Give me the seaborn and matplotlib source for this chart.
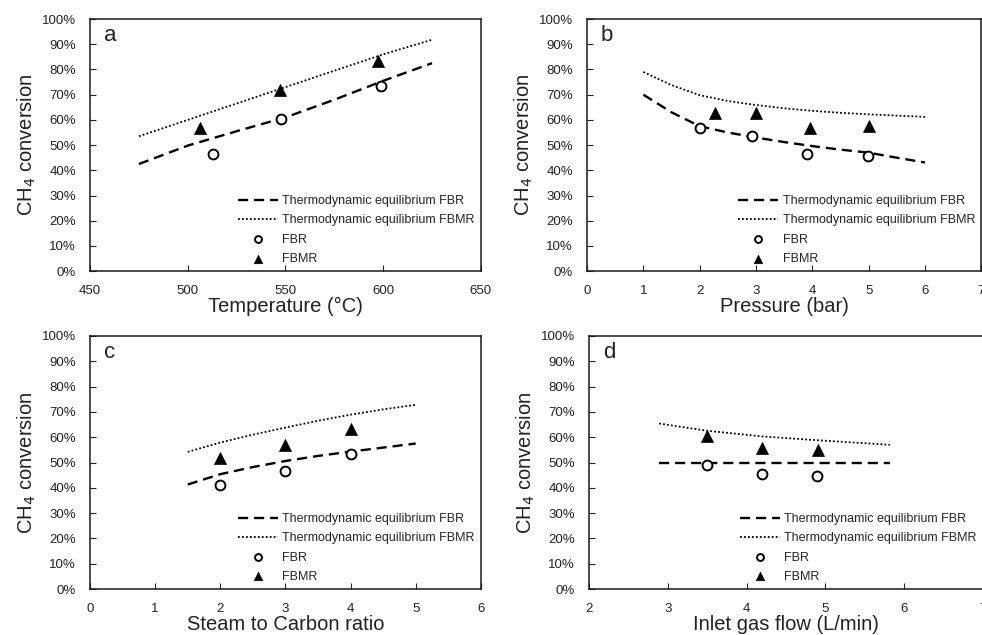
import numpy as np
import pandas as pd
import seaborn as sns
import matplotlib.pyplot as plt
from matplotlib import ticker

# Panel a - temperature
TEMP_EQ = [475, 500, 525, 550, 575, 600, 625]
TEMP_EQ_FBR = [42.5, 49.8, 55.5, 61.0, 68.0, 75.5, 82.5]
TEMP_EQ_FBMR = [53.5, 60.0, 66.5, 73.0, 79.5, 86.0, 91.8]
TEMP_FBR_X = [513, 547.5, 599]
TEMP_FBR_Y = [46.4, 60.2, 73.4]
TEMP_FBMR_X = [506.5, 547, 597.5]
TEMP_FBMR_Y = [56.6, 71.8, 83.3]

# Panel b - pressure
PRES_EQ = [1, 1.5, 2, 2.5, 3, 3.5, 4, 4.5, 5, 5.5, 6]
PRES_EQ_FBR = [70.0, 63.0, 57.5, 55.0, 53.0, 51.2, 49.6, 48.2, 47.0, 45.0, 43.1]
PRES_EQ_FBMR = [79.0, 73.8, 69.8, 67.5, 65.9, 64.6, 63.6, 62.8, 62.2, 61.7, 61.2]
PRES_FBR_X = [2.01, 2.92, 3.91, 4.99]
PRES_FBR_Y = [56.9, 53.6, 46.6, 45.6]
PRES_FBMR_X = [2.27, 3.0, 3.95, 5.0]
PRES_FBMR_Y = [62.8, 62.8, 56.6, 57.5]

# Panel c - steam to carbon ratio
SC_EQ = [1.5, 2, 2.5, 3, 3.5, 4, 4.5, 5]
SC_EQ_FBR = [41.3, 45.4, 48.2, 50.6, 52.6, 54.3, 55.9, 57.5]
SC_EQ_FBMR = [54.2, 57.9, 61.0, 63.8, 66.5, 68.9, 71.0, 72.8]
SC_FBR_X = [2, 3, 4]
SC_FBR_Y = [41.1, 46.6, 53.2]
SC_FBMR_X = [2, 3, 4]
SC_FBMR_Y = [51.9, 56.8, 63.4]

# Panel d - inlet gas flow
FLOW_EQ = [2.89, 3.51, 4.2, 4.9, 5.82]
FLOW_EQ_FBR = [49.7, 49.7, 49.7, 49.7, 49.7]
FLOW_EQ_FBMR = [65.4, 62.5, 60.3, 58.8, 57.0]
FLOW_FBR_X = [3.5, 4.19, 4.89]
FLOW_FBR_Y = [49.0, 45.4, 44.8]
FLOW_FBMR_X = [3.5, 4.2, 4.9]
FLOW_FBMR_Y = [60.3, 55.6, 55.0]

LBL_EQ_FBR = "Thermodynamic equilibrium FBR"
LBL_EQ_FBMR = "Thermodynamic equilibrium FBMR"

sns.set_style("ticks")
plt.rcParams["font.family"] = ["Liberation Sans", "DejaVu Sans"]

fig = plt.figure(figsize=(9.82, 6.35), dpi=100)

panels = [
    # letter, rect, data, xlim, xticks, xlabel
    ("a", [0.0917, 0.573, 0.398, 0.397],
     (TEMP_EQ, TEMP_EQ_FBR, TEMP_EQ_FBMR, TEMP_FBR_X, TEMP_FBR_Y, TEMP_FBMR_X, TEMP_FBMR_Y),
     (450, 650), np.arange(450, 651, 50), "Temperature (°C)"),
    ("b", [0.5978, 0.573, 0.4015, 0.397],
     (PRES_EQ, PRES_EQ_FBR, PRES_EQ_FBMR, PRES_FBR_X, PRES_FBR_Y, PRES_FBMR_X, PRES_FBMR_Y),
     (0, 7), np.arange(0, 8, 1), "Pressure (bar)"),
    ("c", [0.0917, 0.0724, 0.398, 0.3985],
     (SC_EQ, SC_EQ_FBR, SC_EQ_FBMR, SC_FBR_X, SC_FBR_Y, SC_FBMR_X, SC_FBMR_Y),
     (0, 6), np.arange(0, 7, 1), "Steam to Carbon ratio"),
    ("d", [0.5998, 0.0724, 0.4012, 0.3985],
     (FLOW_EQ, FLOW_EQ_FBR, FLOW_EQ_FBMR, FLOW_FBR_X, FLOW_FBR_Y, FLOW_FBMR_X, FLOW_FBMR_Y),
     (2, 7), np.arange(2, 8, 1), "Inlet gas flow (L/min)"),
]

for letter, rect, data, xlim, xticks, xlabel in panels:
    eq_x, eq_fbr, eq_fbmr, fbr_x, fbr_y, fbmr_x, fbmr_y = data
    ax = fig.add_axes(rect)
    df_eq = pd.DataFrame({"x": eq_x, "fbr": eq_fbr, "fbmr": eq_fbmr})

    sns.lineplot(data=df_eq, x="x", y="fbr", ax=ax, color="black", lw=1.7,
                 label=LBL_EQ_FBR)
    ax.lines[-1].set_dashes((4.3, 2.5))
    sns.lineplot(data=df_eq, x="x", y="fbmr", ax=ax, color="black", lw=1.3,
                 label=LBL_EQ_FBMR)
    ax.lines[-1].set_dashes((1, 1.2))
    sns.scatterplot(x=fbr_x, y=fbr_y, ax=ax, marker="o", s=50, facecolor="white",
                    edgecolor="black", linewidth=1.4, label="FBR", zorder=3)
    sns.scatterplot(x=fbmr_x, y=fbmr_y, ax=ax, marker="^", s=75, color="black",
                    edgecolor="black", linewidth=0.5, label="FBMR", zorder=3)

    ax.set_xlim(*xlim)
    ax.set_ylim(0, 100)
    ax.set_xticks(xticks)
    ax.set_yticks(np.arange(0, 101, 10))
    ax.yaxis.set_major_formatter(ticker.FuncFormatter(lambda v, p: f"{v:.0f}%"))
    ax.tick_params(direction="in", length=4, width=0.8, pad=10, labelsize=9.5,
                   colors="#222222")
    for side in ["top", "right", "left", "bottom"]:
        ax.spines[side].set_visible(True)
        ax.spines[side].set_linewidth(1.1)
        ax.spines[side].set_color("#1a1a1a")

    ax.set_xlabel(xlabel, fontsize=14.5, labelpad=0, color="#222222")
    ax.set_ylabel("CH$_4$ conversion", fontsize=14.5, labelpad=3, color="#222222")
    ax.text(0.035, 0.975, letter, transform=ax.transAxes, fontsize=16,
            va="top", ha="left", color="#222222")

    ax.legend(loc="lower right", frameon=False, fontsize=9, handlelength=3.2,
              handletextpad=0.35, labelspacing=0.58, borderpad=0.2,
              borderaxespad=0.3, markerscale=0.7)

fig.savefig("out.png", dpi=100)
